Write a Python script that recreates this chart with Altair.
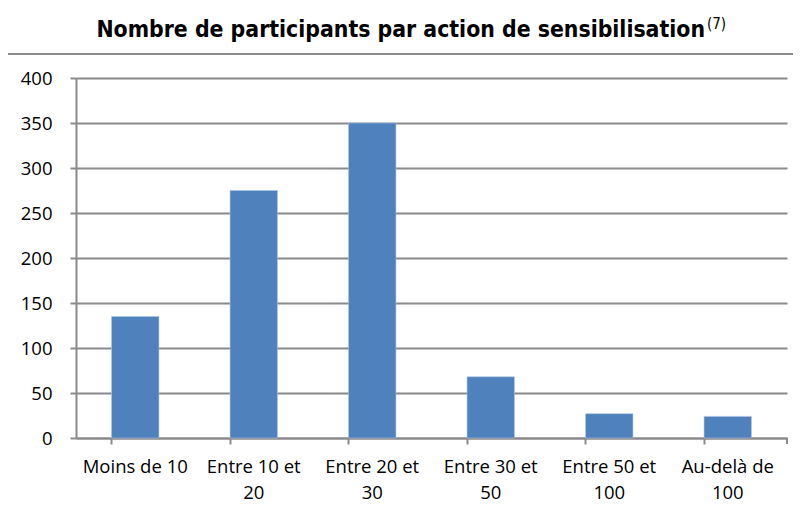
import altair as alt
import pandas as pd

title_main = "Nombre de participants par action de sensibilisation"
title_note = "(7)"
categories = ["Moins de 10", "Entre 10 et 20", "Entre 20 et 30", "Entre 30 et 50", "Entre 50 et 100", "Au-delà de 100"]
participants = [135, 275, 350, 68, 27, 24]
y_ticks = [0, 50, 100, 150, 200, 250, 300, 350, 400]

df = pd.DataFrame({"categorie": categories, "participants": participants})
title_df = pd.DataFrame({"t": [title_main]})
note_df = pd.DataFrame({"t": [title_note]})

GRAY = "#8a8a8a"
LABEL_FONT = "Open Sans"

label_expr = (
    "datum.label == 'Moins de 10' ? datum.label : "
    "[substring(datum.label, 0, lastindexof(datum.label, ' ')), "
    "substring(datum.label, lastindexof(datum.label, ' ') + 1)]"
)

bars = alt.Chart(df).mark_bar(color="#4F81BD", stroke="#a9c4e8", strokeWidth=0.6).encode(
    x=alt.X(
        "categorie:N",
        sort=categories,
        title=None,
        scale=alt.Scale(paddingInner=0.6, paddingOuter=0.3),
        axis=alt.Axis(
            labelAngle=0,
            labelExpr=label_expr,
            labelFont=LABEL_FONT,
            labelFontSize=18.5,
            labelColor="#000000",
            labelPadding=13,
            labelLineHeight=26,
            bandPosition=0,
            tickColor=GRAY,
            tickWidth=2,
            tickSize=6,
            domainColor=GRAY,
            domainWidth=2,
            grid=False,
        ),
    ),
    y=alt.Y(
        "participants:Q",
        title=None,
        scale=alt.Scale(domain=[0, 400]),
        axis=alt.Axis(
            values=y_ticks,
            labelFont=LABEL_FONT,
            labelFontSize=18.5,
            labelColor="#000000",
            labelPadding=18,
            tickColor=GRAY,
            tickWidth=2,
            tickSize=6,
            domainColor=GRAY,
            domainWidth=2,
            grid=True,
            gridColor=GRAY,
            gridWidth=2,
        ),
    ),
)

border = alt.Chart(df).mark_rect(filled=False, stroke="#8c8c8c", strokeWidth=1.5).encode(
    x=alt.value(-69), x2=alt.value(730), y=alt.value(-24), y2=alt.value(460)
)

end_tick = alt.Chart(df).mark_rule(color=GRAY, strokeWidth=2).encode(
    x=alt.value(711), y=alt.value(360), y2=alt.value(366)
)

title = alt.Chart(title_df).mark_text(
    font="DejaVu Sans Condensed, DejaVu Sans",
    fontSize=22.8,
    fontWeight="bold",
    color="#000000",
    align="right",
    baseline="alphabetic",
).encode(text="t:N", x=alt.value(629), y=alt.value(-41))

note = alt.Chart(note_df).mark_text(
    font="DejaVu Sans Condensed, DejaVu Sans",
    fontSize=15,
    color="#000000",
    align="left",
    baseline="alphabetic",
).encode(text="t:N", x=alt.value(631), y=alt.value(-49))

chart = alt.layer(border, bars, end_tick, title, note).properties(
    width=711,
    height=360,
    autosize="none",
    padding={"left": 68, "top": 70, "right": 6, "bottom": 65},
).configure_view(stroke=None)

chart.save("out.html", embed_options={"renderer": "svg", "actions": False})
